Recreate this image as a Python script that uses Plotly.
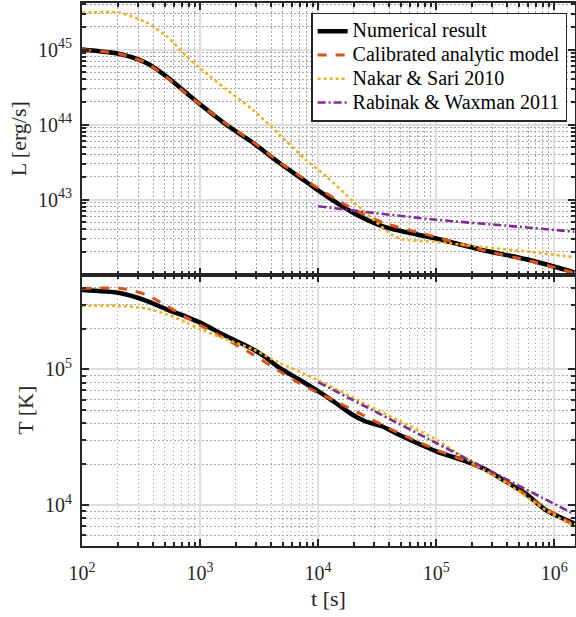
import plotly.graph_objects as go
from plotly.subplots import make_subplots

# ---------------- data ----------------
# Luminosity panel
t_L_num = [100, 209, 352, 520, 767, 1000, 1660, 2790, 4680, 7860, 1.0e4, 1.94e4, 3.7e4, 1.0e5, 2.4e5, 6.3e5, 1.48e6]
L_num = [1.0e45, 8.71e44, 6.61e44, 4.37e44, 2.63e44, 1.86e44, 1.0e44, 5.75e43, 3.09e43, 1.74e43,
         1.32e43, 6.76e42, 4.27e42, 3.02e42, 2.14e42, 1.55e42, 1.07e42]

t_L_cal = [100, 209, 352, 520, 767, 1000, 1660, 2790, 4680, 7860, 1.0e4, 1.94e4, 3.7e4, 1.0e5, 2.4e5, 6.3e5, 1.48e6]
L_cal = [1.0e45, 8.71e44, 6.61e44, 4.27e44, 2.57e44, 1.86e44, 1.02e44, 5.89e43, 3.16e43, 1.82e43,
         1.41e43, 7.59e42, 4.79e42, 3.16e42, 2.14e42, 1.51e42, 1.05e42]

t_L_ns = [100, 209, 352, 520, 767, 1000, 1660, 2790, 4680, 7860, 1.17e4, 2.0e4, 3.0e4, 4.3e4, 5.2e4, 1.0e5, 2.4e5, 6.3e5, 1.48e6]
L_ns = [3.09e45, 3.09e45, 2.29e45, 1.51e45, 8.13e44, 5.62e44, 2.95e44, 1.58e44, 7.41e43, 3.39e43,
        2.04e43, 9.33e42, 5.25e42, 3.31e42, 2.95e42, 2.72e42, 2.34e42, 2.0e42, 1.70e42]

t_L_rw = [1.0e4, 3.0e4, 1.0e5, 4.0e5, 1.48e6]
L_rw = [8.13e42, 6.61e42, 5.37e42, 4.47e42, 3.72e42]

# Temperature panel
t_T_num = [100, 209, 352, 520, 767, 1000, 1660, 2790, 3630, 4680, 6900, 1.0e4, 1.4e4, 1.94e4, 2.5e4,
           3.47e4, 4.8e4, 1.0e5, 1.8e5, 2.65e5, 3.9e5, 5.7e5, 8.5e5, 1.48e6]
T_num = [3.84e5, 3.65e5, 3.20e5, 2.77e5, 2.44e5, 2.21e5, 1.76e5, 1.41e5, 1.22e5, 1.03e5, 8.43e4,
         6.92e4, 5.68e4, 4.65e4, 4.15e4, 3.81e4, 3.31e4, 2.49e4, 2.10e4, 1.82e4, 1.49e4, 1.22e4,
         9.18e3, 7.33e3]

t_T_cal = [100, 215, 352, 520, 767, 1000, 1660, 2790, 4680, 6900, 1.0e4, 1.4e4, 2.5e4, 4.8e4,
           1.0e5, 1.8e5, 3.9e5, 8.5e5, 1.48e6]
T_cal = [3.94e5, 3.94e5, 3.54e5, 2.94e5, 2.41e5, 2.12e5, 1.67e5, 1.29e5, 9.72e4, 7.94e4, 6.71e4,
         5.83e4, 4.52e4, 3.40e4, 2.56e4, 2.10e4, 1.49e4, 9.46e3, 7.14e3]

t_T_ns = [100, 200, 352, 520, 767, 1000, 1660, 2790, 4680, 7860, 1.0e4, 2.5e4, 4.8e4, 1.0e5,
          1.58e5, 2.65e5, 3.9e5, 8.5e5, 1.48e6]
T_ns = [2.94e5, 2.94e5, 2.81e5, 2.55e5, 2.21e5, 1.98e5, 1.67e5, 1.41e5, 1.12e5, 9.18e4, 8.32e4,
        5.57e4, 4.20e4, 3.04e4, 2.36e4, 1.78e4, 1.46e4, 9.18e3, 6.95e3]

t_T_rw = [1.0e4, 3.0e4, 1.0e5, 4.0e5, 1.48e6]
T_rw = [8.05e4, 4.92e4, 2.87e4, 1.54e4, 8.57e3]

series_names = ["Numerical result", "Calibrated analytic model", "Nakar & Sari 2010", "Rabinak & Waxman 2011"]

x_tickvals = [1e2, 1e3, 1e4, 1e5, 1e6]
x_ticktext = ["10<sup>2</sup>", "10<sup>3</sup>", "10<sup>4</sup>", "10<sup>5</sup>", "10<sup>6</sup>"]
L_tickvals = [1e43, 1e44, 1e45]
L_ticktext = ["10<sup>43</sup>", "10<sup>44</sup>", "10<sup>45</sup>"]
T_tickvals = [1e4, 1e5]
T_ticktext = ["10<sup>4</sup>", "10<sup>5</sup>"]

# ---------------- styles ----------------
FONT = "Liberation Serif"
AX = "#262626"
styles = [
    dict(color="black", width=4.5, dash="solid"),
    dict(color="#D95319", width=3, dash="dash"),
    dict(color="#EDB120", width=2.6, dash="dot"),
    dict(color="#7E2F8E", width=2.6, dash="8px,3px,2px,3px"),
]

fig = make_subplots(rows=2, cols=1, shared_xaxes=True, vertical_spacing=0)

L_sets = [(t_L_num, L_num), (t_L_cal, L_cal), (t_L_ns, L_ns), (t_L_rw, L_rw)]
T_sets = [(t_T_num, T_num), (t_T_cal, T_cal), (t_T_ns, T_ns), (t_T_rw, T_rw)]

for i, ((tx, ly), name) in enumerate(zip(L_sets, series_names)):
    fig.add_trace(go.Scatter(x=tx, y=ly, mode="lines",
                             name='<span style="font-size:20px">' + name + '</span>',
                             line=styles[i], line_shape="spline", line_smoothing=0.7,
                             showlegend=True, legendrank=i), row=1, col=1)
for i, ((tx, ty), name) in enumerate(zip(T_sets, series_names)):
    fig.add_trace(go.Scatter(x=tx, y=ty, mode="lines", name=name, line=styles[i],
                             line_shape="spline", line_smoothing=0.7,
                             showlegend=False), row=2, col=1)


def minor_vals(lo, hi):
    vals = []
    for e in range(lo, hi + 1):
        for d in range(2, 10):
            vals.append(float(d) * 10.0 ** e)
    return vals


MINOR_GRID = dict(ticks="inside", ticklen=4, tickcolor=AX, showgrid=True,
                  gridcolor="#a8a8a8", griddash="1.5px,2.5px", gridwidth=1)

common = dict(
    type="log", showline=True, linecolor=AX, linewidth=2, mirror="allticks",
    ticks="inside", ticklen=7, tickwidth=1.5, tickcolor=AX, automargin=False,
    showgrid=True, gridcolor="#dedede", gridwidth=1.5, zeroline=False,
    tickfont=dict(family=FONT, size=20, color=AX),
)

fig.update_xaxes(**common, range=[2, 6.176], tickvals=x_tickvals, ticktext=x_ticktext,
                 minor=dict(tickvals=minor_vals(2, 6), **MINOR_GRID))
fig.update_xaxes(showticklabels=False, row=1, col=1)
fig.update_xaxes(ticklabelstandoff=8,
                 title=dict(text="t [s]", font=dict(family=FONT, size=22, color=AX), standoff=8),
                 row=2, col=1)

fig.update_yaxes(**common, ticklabelstandoff=4)
fig.update_yaxes(range=[42, 45.62], tickvals=L_tickvals, ticktext=L_ticktext,
                 minor=dict(tickvals=minor_vals(42, 45), **MINOR_GRID),
                 title=dict(text="L [erg/s]", font=dict(family=FONT, size=22, color=AX), standoff=5),
                 row=1, col=1)
fig.update_yaxes(range=[3.699, 5.699], tickvals=T_tickvals, ticktext=T_ticktext,
                 minor=dict(tickvals=minor_vals(3, 5), **MINOR_GRID),
                 title=dict(text="T [K]", font=dict(family=FONT, size=22, color=AX), standoff=5),
                 row=2, col=1)

fig.update_layout(
    width=576, height=617,
    margin=dict(l=82, r=1, t=3, b=71, autoexpand=False),
    paper_bgcolor="white", plot_bgcolor="white",
    font=dict(family=FONT, color=AX),
    legend=dict(x=0.984, y=0.982, xanchor="right", yanchor="top",
                bgcolor="white", bordercolor=AX, borderwidth=1.5,
                font=dict(family=FONT, size=16, color="black"),
                tracegroupgap=0, itemwidth=30),
)

fig.write_html("out.html", config={"displayModeBar": False},
               post_script="document.body.style.margin='0';")
